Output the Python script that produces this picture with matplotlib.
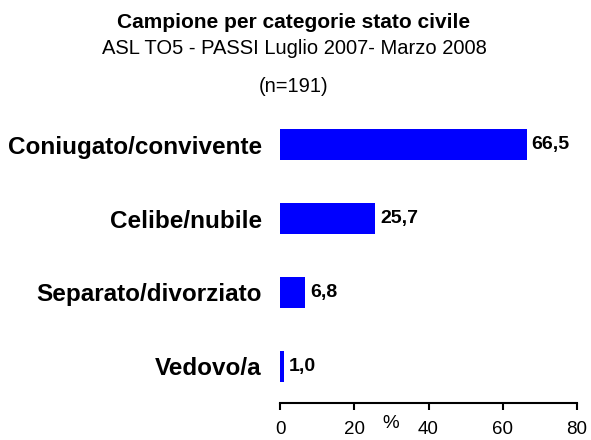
import numpy as np
import matplotlib.pyplot as plt

# data
categorie = ['Coniugato/convivente', 'Celibe/nubile', 'Separato/divorziato', 'Vedovo/a']
percentuali = [66.5, 25.7, 6.8, 1.0]
tick_valori = [0, 20, 40, 60, 80]

plt.rcParams['font.family'] = ['Liberation Sans', 'DejaVu Sans']

fig = plt.figure(figsize=(5.91, 4.40), dpi=100)
ax = fig.add_axes([280 / 591, 1 - 403 / 440, 297 / 591, 295 / 440])

y = np.arange(len(categorie))
ax.barh(y, percentuali, height=0.42, color='#0000ff')
ax.set_ylim(len(categorie) - 0.5, -0.5)
ax.set_xlim(0, 80)

# value labels with comma decimals
for yi, v in zip(y, percentuali):
    ax.text(v + 1.3, yi, '{:.1f}'.format(v).replace('.', ','), va='center', ha='left',
            fontsize=14, fontweight='bold')

ax.set_yticks(y)
ax.set_yticklabels(categorie, fontsize=17.5, fontweight='bold')
ax.tick_params(axis='y', length=0, pad=13)

ax.set_xticks(tick_valori)
ax.set_xticklabels([str(t) for t in tick_valori], fontsize=13.5)
ax.tick_params(axis='x', length=5, width=1.5, pad=8)

for side in ['top', 'right', 'left']:
    ax.spines[side].set_visible(False)
ax.spines['bottom'].set_linewidth(1.5)

ax.text(29.7, -0.04, '%', transform=ax.get_xaxis_transform(), ha='center', va='top', fontsize=13.5)

fig.text(294 / 591, 1 - 23 / 440, 'Campione per categorie stato civile', ha='center', va='center',
         fontsize=15, fontweight='bold')
fig.text(294 / 591, 1 - 49 / 440, 'ASL TO5 - PASSI Luglio 2007- Marzo 2008', ha='center', va='center',
         fontsize=14.5)
fig.text(294 / 591, 1 - 87 / 440, '(n=191)', ha='center', va='center', fontsize=14.5)

fig.savefig('out.png', dpi=100)
